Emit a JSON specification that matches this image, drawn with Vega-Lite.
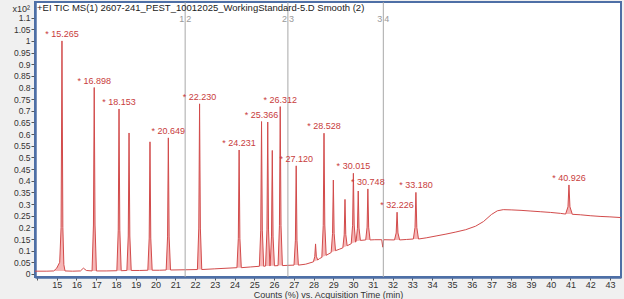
{
  "$schema": "https://vega.github.io/schema/vega-lite/v6.json",
  "width": 586,
  "height": 275,
  "autosize": {"type": "none"},
  "padding": {"left": 35, "top": 2, "right": 3, "bottom": 22},
  "background": "#f0f0f0",
  "config": {
    "view": {"fill": "#ffffff", "stroke": "#4e6fa6", "strokeWidth": 2},
    "font": "Liberation Sans",
    "axis": {"grid": false, "domainColor": "#4e6fa6", "domainWidth": 2.5, "tickColor": "#555555", "labelColor": "#333333", "labelFontSize": 9, "titleFontSize": 9, "titleFontWeight": "normal", "titleColor": "#333333"}
  },
  "datasets": {
    "trace": [
      {"t": 13.9, "v": 0.012}, {"t": 14.5, "v": 0.012},
      {"t": 14.85, "v": 0.013, "b": 0.013, "pk": 1}, {"t": 15.0, "v": 0.025, "b": 0.013, "pk": 1}, {"t": 15.15, "v": 0.05, "b": 0.013, "pk": 1}, {"t": 15.22, "v": 0.2, "b": 0.013, "pk": 1}, {"t": 15.265, "v": 1.0, "b": 0.013, "pk": 1}, {"t": 15.31, "v": 0.2, "b": 0.013, "pk": 1}, {"t": 15.36, "v": 0.04, "b": 0.013, "pk": 1}, {"t": 15.42, "v": 0.013, "b": 0.013, "pk": 1},
      {"t": 15.8, "v": 0.012}, {"t": 16.2, "v": 0.013}, {"t": 16.35, "v": 0.025}, {"t": 16.5, "v": 0.015},
      {"t": 16.788, "v": 0.013, "b": 0.013, "pk": 2}, {"t": 16.858, "v": 0.21, "b": 0.013, "pk": 2}, {"t": 16.898, "v": 0.8, "b": 0.013, "pk": 2}, {"t": 16.938, "v": 0.21, "b": 0.013, "pk": 2}, {"t": 17.008, "v": 0.013, "b": 0.013, "pk": 2},
      {"t": 17.5, "v": 0.013},
      {"t": 18.043, "v": 0.014, "b": 0.014, "pk": 3}, {"t": 18.113, "v": 0.188, "b": 0.014, "pk": 3}, {"t": 18.153, "v": 0.708, "b": 0.014, "pk": 3}, {"t": 18.193, "v": 0.188, "b": 0.014, "pk": 3}, {"t": 18.263, "v": 0.014, "b": 0.014, "pk": 3},
      {"t": 18.55, "v": 0.015, "b": 0.015, "pk": 4}, {"t": 18.62, "v": 0.163, "b": 0.015, "pk": 4}, {"t": 18.66, "v": 0.605, "b": 0.015, "pk": 4}, {"t": 18.7, "v": 0.163, "b": 0.015, "pk": 4}, {"t": 18.77, "v": 0.015, "b": 0.015, "pk": 4},
      {"t": 19.2, "v": 0.015},
      {"t": 19.61, "v": 0.016, "b": 0.016, "pk": 5}, {"t": 19.68, "v": 0.154, "b": 0.016, "pk": 5}, {"t": 19.72, "v": 0.567, "b": 0.016, "pk": 5}, {"t": 19.76, "v": 0.154, "b": 0.016, "pk": 5}, {"t": 19.83, "v": 0.016, "b": 0.016, "pk": 5},
      {"t": 20.2, "v": 0.016},
      {"t": 20.539, "v": 0.017, "b": 0.017, "pk": 6}, {"t": 20.609, "v": 0.159, "b": 0.017, "pk": 6}, {"t": 20.649, "v": 0.584, "b": 0.017, "pk": 6}, {"t": 20.689, "v": 0.159, "b": 0.017, "pk": 6}, {"t": 20.759, "v": 0.017, "b": 0.017, "pk": 6},
      {"t": 21.5, "v": 0.018},
      {"t": 22.12, "v": 0.019, "b": 0.019, "pk": 7}, {"t": 22.19, "v": 0.197, "b": 0.019, "pk": 7}, {"t": 22.23, "v": 0.73, "b": 0.019, "pk": 7}, {"t": 22.27, "v": 0.197, "b": 0.019, "pk": 7}, {"t": 22.34, "v": 0.019, "b": 0.019, "pk": 7},
      {"t": 23.0, "v": 0.022},
      {"t": 24.121, "v": 0.027, "b": 0.027, "pk": 8}, {"t": 24.191, "v": 0.153, "b": 0.027, "pk": 8}, {"t": 24.231, "v": 0.532, "b": 0.027, "pk": 8}, {"t": 24.271, "v": 0.153, "b": 0.027, "pk": 8}, {"t": 24.341, "v": 0.027, "b": 0.027, "pk": 8},
      {"t": 24.8, "v": 0.03},
      {"t": 25.256, "v": 0.033, "b": 0.033, "pk": 9}, {"t": 25.326, "v": 0.188, "b": 0.033, "pk": 9}, {"t": 25.366, "v": 0.654, "b": 0.033, "pk": 9}, {"t": 25.406, "v": 0.188, "b": 0.033, "pk": 9}, {"t": 25.476, "v": 0.033, "b": 0.033, "pk": 9},
      {"t": 25.57, "v": 0.034, "b": 0.034, "pk": 10}, {"t": 25.64, "v": 0.189, "b": 0.034, "pk": 10}, {"t": 25.68, "v": 0.652, "b": 0.034, "pk": 10}, {"t": 25.72, "v": 0.189, "b": 0.034, "pk": 10}, {"t": 25.79, "v": 0.034, "b": 0.034, "pk": 10},
      {"t": 25.8, "v": 0.035, "b": 0.035, "pk": 11}, {"t": 25.87, "v": 0.159, "b": 0.035, "pk": 11}, {"t": 25.91, "v": 0.53, "b": 0.035, "pk": 11}, {"t": 25.95, "v": 0.159, "b": 0.035, "pk": 11}, {"t": 26.02, "v": 0.035, "b": 0.035, "pk": 11},
      {"t": 26.202, "v": 0.036, "b": 0.036, "pk": 12}, {"t": 26.272, "v": 0.207, "b": 0.036, "pk": 12}, {"t": 26.312, "v": 0.718, "b": 0.036, "pk": 12}, {"t": 26.352, "v": 0.207, "b": 0.036, "pk": 12}, {"t": 26.422, "v": 0.036, "b": 0.036, "pk": 12},
      {"t": 26.7, "v": 0.037},
      {"t": 27.01, "v": 0.038, "b": 0.038, "pk": 13}, {"t": 27.08, "v": 0.145, "b": 0.038, "pk": 13}, {"t": 27.12, "v": 0.464, "b": 0.038, "pk": 13}, {"t": 27.16, "v": 0.145, "b": 0.038, "pk": 13}, {"t": 27.23, "v": 0.038, "b": 0.038, "pk": 13},
      {"t": 27.6, "v": 0.042},
      {"t": 27.99, "v": 0.052, "b": 0.052, "pk": 14}, {"t": 28.06, "v": 0.074, "b": 0.055, "pk": 14}, {"t": 28.1, "v": 0.129, "b": 0.056, "pk": 14}, {"t": 28.14, "v": 0.076, "b": 0.057, "pk": 14}, {"t": 28.21, "v": 0.06, "b": 0.06, "pk": 14},
      {"t": 28.3, "v": 0.066},
      {"t": 28.418, "v": 0.071, "b": 0.071, "pk": 15}, {"t": 28.488, "v": 0.208, "b": 0.075, "pk": 15}, {"t": 28.528, "v": 0.604, "b": 0.076, "pk": 15}, {"t": 28.568, "v": 0.21, "b": 0.077, "pk": 15}, {"t": 28.638, "v": 0.08, "b": 0.08, "pk": 15},
      {"t": 28.89, "v": 0.092, "b": 0.092, "pk": 16}, {"t": 28.96, "v": 0.173, "b": 0.095, "pk": 16}, {"t": 29.0, "v": 0.403, "b": 0.096, "pk": 16}, {"t": 29.04, "v": 0.174, "b": 0.097, "pk": 16}, {"t": 29.11, "v": 0.1, "b": 0.1, "pk": 16},
      {"t": 29.3, "v": 0.106},
      {"t": 29.48, "v": 0.112, "b": 0.112, "pk": 17}, {"t": 29.55, "v": 0.168, "b": 0.116, "pk": 17}, {"t": 29.59, "v": 0.32, "b": 0.117, "pk": 17}, {"t": 29.63, "v": 0.169, "b": 0.118, "pk": 17}, {"t": 29.7, "v": 0.121, "b": 0.121, "pk": 17},
      {"t": 29.905, "v": 0.13, "b": 0.13, "pk": 18}, {"t": 29.975, "v": 0.209, "b": 0.133, "pk": 18}, {"t": 30.015, "v": 0.432, "b": 0.134, "pk": 18}, {"t": 30.055, "v": 0.21, "b": 0.135, "pk": 18}, {"t": 30.125, "v": 0.137, "b": 0.137, "pk": 18},
      {"t": 30.15, "v": 0.139, "b": 0.139, "pk": 19}, {"t": 30.22, "v": 0.196, "b": 0.141, "pk": 19}, {"t": 30.26, "v": 0.356, "b": 0.142, "pk": 19}, {"t": 30.3, "v": 0.197, "b": 0.143, "pk": 19}, {"t": 30.37, "v": 0.144, "b": 0.144, "pk": 19},
      {"t": 30.638, "v": 0.146, "b": 0.146, "pk": 20}, {"t": 30.708, "v": 0.201, "b": 0.146, "pk": 20}, {"t": 30.748, "v": 0.365, "b": 0.146, "pk": 20}, {"t": 30.788, "v": 0.201, "b": 0.146, "pk": 20}, {"t": 30.858, "v": 0.146, "b": 0.146, "pk": 20},
      {"t": 31.1, "v": 0.147}, {"t": 31.45, "v": 0.147}, {"t": 31.5, "v": 0.115}, {"t": 31.55, "v": 0.147},
      {"t": 32.096, "v": 0.146, "b": 0.146, "pk": 21}, {"t": 32.181, "v": 0.176, "b": 0.146, "pk": 21}, {"t": 32.226, "v": 0.265, "b": 0.146, "pk": 21}, {"t": 32.271, "v": 0.176, "b": 0.146, "pk": 21}, {"t": 32.356, "v": 0.146, "b": 0.146, "pk": 21},
      {"t": 32.7, "v": 0.148},
      {"t": 33.05, "v": 0.15, "b": 0.15, "pk": 22}, {"t": 33.135, "v": 0.2, "b": 0.15, "pk": 22}, {"t": 33.18, "v": 0.35, "b": 0.15, "pk": 22}, {"t": 33.225, "v": 0.2, "b": 0.15, "pk": 22}, {"t": 33.31, "v": 0.15, "b": 0.15, "pk": 22},
      {"t": 33.7, "v": 0.155}, {"t": 34.2, "v": 0.163}, {"t": 34.7, "v": 0.171}, {"t": 35.2, "v": 0.18}, {"t": 35.7, "v": 0.19}, {"t": 36.2, "v": 0.205}, {"t": 36.6, "v": 0.225}, {"t": 37.0, "v": 0.255}, {"t": 37.3, "v": 0.271}, {"t": 37.6, "v": 0.276}, {"t": 38.0, "v": 0.275}, {"t": 38.5, "v": 0.273}, {"t": 39.0, "v": 0.27}, {"t": 39.5, "v": 0.267}, {"t": 40.0, "v": 0.264}, {"t": 40.5, "v": 0.26},
      {"t": 40.756, "v": 0.257, "b": 0.257, "pk": 23}, {"t": 40.876, "v": 0.288, "b": 0.257, "pk": 23}, {"t": 40.926, "v": 0.382, "b": 0.257, "pk": 23}, {"t": 40.976, "v": 0.288, "b": 0.257, "pk": 23}, {"t": 41.096, "v": 0.256, "b": 0.256, "pk": 23},
      {"t": 41.5, "v": 0.254}, {"t": 42.0, "v": 0.25}, {"t": 42.5, "v": 0.247}, {"t": 43.0, "v": 0.245}, {"t": 43.56, "v": 0.242}
    ],
    "labels": [
      {"t": 15.265, "v": 1.0, "lab": "* 15.265"},
      {"t": 16.898, "v": 0.8, "lab": "* 16.898"},
      {"t": 18.153, "v": 0.708, "lab": "* 18.153"},
      {"t": 20.649, "v": 0.584, "lab": "* 20.649"},
      {"t": 22.23, "v": 0.73, "lab": "* 22.230"},
      {"t": 24.231, "v": 0.532, "lab": "* 24.231"},
      {"t": 25.366, "v": 0.654, "lab": "* 25.366"},
      {"t": 26.312, "v": 0.718, "lab": "* 26.312"},
      {"t": 27.12, "v": 0.464, "lab": "* 27.120"},
      {"t": 28.528, "v": 0.604, "lab": "* 28.528"},
      {"t": 30.015, "v": 0.432, "lab": "* 30.015"},
      {"t": 30.748, "v": 0.365, "lab": "* 30.748"},
      {"t": 32.226, "v": 0.265, "lab": "* 32.226"},
      {"t": 33.18, "v": 0.35, "lab": "* 33.180"},
      {"t": 40.926, "v": 0.382, "lab": "* 40.926"}
    ],
    "markers": [
      {"t": 21.5, "v": 1.095, "l": "1", "r": "2"},
      {"t": 26.7, "v": 1.095, "l": "2", "r": "3"},
      {"t": 31.53, "v": 1.095, "l": "3", "r": "4"}
    ],
    "head": [
      {"t": 13.9, "v": 1.142, "txt": "+EI TIC MS(1) 2607-241_PEST_10012025_WorkingStandard-5.D  Smooth (2)"}
    ]
  },
  "encoding": {
    "x": {"field": "t", "type": "quantitative", "scale": {"domain": [13.9, 43.56], "nice": false, "zero": false},
      "axis": {"values": [14,15,16,17,18,19,20,21,22,23,24,25,26,27,28,29,30,31,32,33,34,35,36,37,38,39,40,41,42,43], "labelExpr": "datum.value < 14.5 ? '' : datum.label", "labelOverlap": false, "labelFlush": false, "tickSize": 3, "labelPadding": 0, "title": "Counts (%) vs. Acquisition Time (min)", "titlePadding": 1}},
    "y": {"field": "v", "type": "quantitative", "scale": {"domain": [-0.013, 1.167], "nice": false, "zero": false},
      "axis": {"values": [0,0.05,0.1,0.15,0.2,0.25,0.3,0.35,0.4,0.45,0.5,0.55,0.6,0.65,0.7,0.75,0.8,0.85,0.9,0.95,1,1.05,1.1], "format": ".2~f", "labelOverlap": false, "labelFlush": false, "tickSize": 4, "labelPadding": 1, "labelFontSize": 8.5, "title": "x10²", "titleAngle": 0, "titleAlign": "left", "titleBaseline": "middle", "titleX": -23, "titleY": 6}}
  },
  "layer": [
    {
      "data": {"name": "trace"},
      "transform": [{"filter": "isValid(datum.pk)"}],
      "mark": {"type": "area", "fill": "#f4aaaa", "opacity": 0.85},
      "encoding": {
        "y2": {"field": "b"},
        "detail": {"field": "pk", "type": "nominal"}
      }
    },
    {
      "data": {"name": "trace"},
      "mark": {"type": "line", "stroke": "#d24b4b", "strokeWidth": 1},
      "encoding": {}
    },
    {
      "data": {"name": "markers"},
      "mark": {"type": "rule", "stroke": "#a8a8a8", "strokeWidth": 1},
      "encoding": {"y": {"datum": -0.013, "type": "quantitative"}, "y2": {"datum": 1.167}}
    },
    {
      "data": {"name": "markers"},
      "mark": {"type": "text", "align": "right", "baseline": "middle", "dx": -1, "fontSize": 9, "color": "#999999"},
      "encoding": {"text": {"field": "l"}}
    },
    {
      "data": {"name": "markers"},
      "mark": {"type": "text", "align": "left", "baseline": "middle", "dx": 1, "fontSize": 9, "color": "#999999"},
      "encoding": {"text": {"field": "r"}}
    },
    {
      "data": {"name": "labels"},
      "mark": {"type": "text", "align": "center", "baseline": "bottom", "dy": -2, "fontSize": 9, "color": "#c83c3c"},
      "encoding": {"text": {"field": "lab"}}
    },
    {
      "data": {"name": "head"},
      "mark": {"type": "text", "align": "left", "baseline": "middle", "dx": 2, "fontSize": 9.5, "color": "#222222"},
      "encoding": {"text": {"field": "txt"}}
    }
  ]
}
